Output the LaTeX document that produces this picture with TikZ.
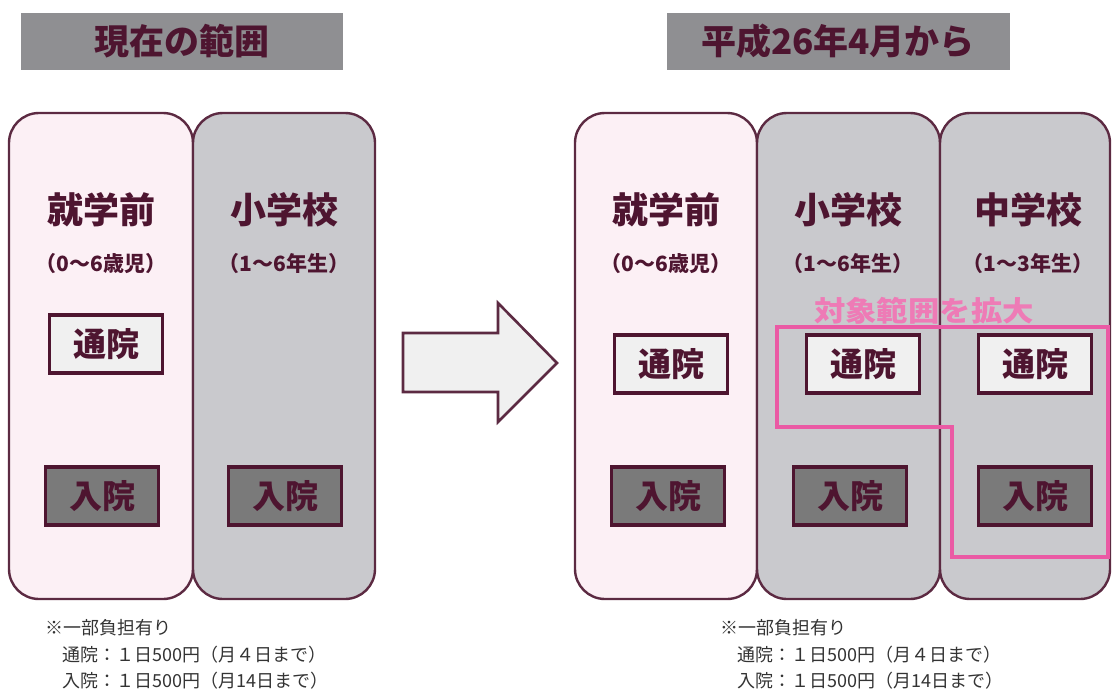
\documentclass[tikz,border=0pt]{standalone}
\usepackage{fontspec}
\IfFontExistsTF{Noto Sans CJK JP Black}
  {\setmainfont{Noto Sans CJK JP}[BoldFont={Noto Sans CJK JP Black}]}
  {\setmainfont{Noto Sans CJK JP}[BoldFont={Noto Sans CJK JP Bold}]}
\usepackage{tikz}
\usetikzlibrary{positioning}
\definecolor{darkmaroon}{HTML}{4E1530}
\definecolor{edgemaroon}{HTML}{5C2A42}
\definecolor{titlegray}{HTML}{8F8F92}
\definecolor{colpink}{HTML}{FCF0F5}
\definecolor{colgray}{HTML}{C9C9CD}
\definecolor{hotpink}{HTML}{EA5AA4}
\newcommand{\Jsize}[1]{\fontsize{#1}{#1}\selectfont}
\tikzset{
  titlebar/.style={fill=titlegray,draw=none},
  colbox/.style={draw=edgemaroon,line width=2.4pt,rounded corners=30pt},
  colhead/.style={text=darkmaroon,font=\bfseries\Jsize{36}},
  colsub/.style={text=darkmaroon,font=\bfseries\Jsize{21}},
  careboxes/.style={draw=darkmaroon,line width=3.8pt,minimum width=113pt,minimum height=58pt,
    inner sep=0pt,text=darkmaroon,font=\bfseries\Jsize{33}},
  outbox/.style={careboxes,fill=black!6},
  inbox/.style={careboxes,fill=black!52},
  note/.style={anchor=west,inner sep=0pt,text=black!80,font=\Jsize{18}}
}
\begin{document}
\begin{tikzpicture}[x=1pt,y=-1pt]
\useasboundingbox (0,0) rectangle (1113,688);
% titles
\fill[titlegray] (21,13) rectangle (343,70);
\fill[titlegray] (667,13) rectangle (1010,70);
\node (nowtitle) [text=darkmaroon,font=\bfseries\Jsize{35}] at (182,41) {現在の範囲};
\node (newtitle) [text=darkmaroon,font=\bfseries\Jsize{35}] at (838,41) {平成26年4月から};
%
% current range
\draw[colbox,fill=colpink] (9,113) rectangle (193,599);
\draw[colbox,fill=colgray] (193,113) rectangle (375,599);
\node (pre) [colhead] at (101,210) {就学前};
\node (preage) [colsub] at (101,264) {（0〜6歳児）};
\node (elem) [colhead] at (284,210) {小学校};
\node (elemage) [colsub] at (284,264) {（1〜6年生）};
\node (preout) [outbox] at (106,344) {通院};
\node (prein) [inbox] at (102,496) {入院};
\node (elemin) [inbox] at (285,496) {入院};
%
% big arrow
\draw[edgemaroon,line width=2.6pt,fill=black!6,line join=miter]
  (403,333) -- (498,333) -- (498,303) -- (557,363) -- (498,422) -- (498,392) -- (403,392) -- cycle;
%
% from April 2014
\draw[colbox,fill=colpink] (575,113) rectangle (757,599);
\draw[colbox,fill=colgray] (757,113) rectangle (940,599);
\draw[colbox,fill=colgray] (940,113) rectangle (1110,599);
\node (npre) [colhead] at (666,210) {就学前};
\node (npreage) [colsub] at (666,264) {（0〜6歳児）};
\node (nelem) [colhead] at (848,210) {小学校};
\node (nelemage) [colsub] at (848,264) {（1〜6年生）};
\node (njun) [colhead] at (1028,210) {中学校};
\node (njunage) [colsub] at (1028,264) {（1〜3年生）};
\node (npreout) [outbox] at (671,364) {通院};
\node (nelemout) [outbox] at (863,364) {通院};
\node (njunout) [outbox] at (1035,364) {通院};
\node (nprein) [inbox] at (668,496) {入院};
\node (nelemin) [inbox] at (850,496) {入院};
\node (njunin) [inbox] at (1035,496) {入院};
% widened range
\draw[hotpink,line width=3.4pt]
  (777,327) -- (1108,327) -- (1108,557) -- (952,557) -- (952,427) -- (777,427) -- cycle;
\node (wider) [text=hotpink!80,font=\bfseries\Jsize{28},xscale=1.12] at (924,311) {対象範囲を拡大};
%
% notes
\node (nownote) [note] at (45,628) {※一部負担有り};
\node (nowout) [note] at (62,655) {通院：１日500円（月４日まで）};
\node (nowin) [note] at (62,681) {入院：１日500円（月14日まで）};
\node (newnote) [note] at (720,628) {※一部負担有り};
\node (newout) [note] at (737,655) {通院：１日500円（月４日まで）};
\node (newin) [note] at (737,681) {入院：１日500円（月14日まで）};
\end{tikzpicture}
\end{document}
